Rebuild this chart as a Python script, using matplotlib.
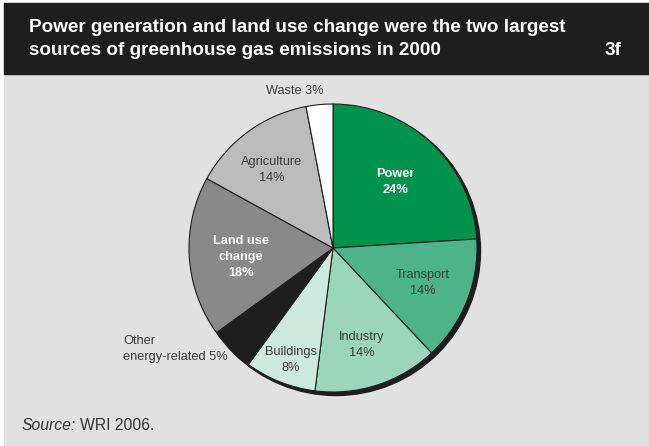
import matplotlib
matplotlib.use('Agg')
import matplotlib.pyplot as plt
from matplotlib.patches import Rectangle, Circle

# slices, clockwise from 12 o'clock
sectors = ['Power', 'Transport', 'Industry', 'Buildings', 'Other energy-related',
           'Land use change', 'Agriculture', 'Waste']
shares = [24, 14, 14, 8, 5, 18, 14, 3]
colors = ['#00934b', '#4db38a', '#9bd6bc', '#cee9dd', '#1e1e1e',
          '#898989', '#bcbcbc', '#ffffff']
label_texts = ['Power\n24%', 'Transport\n14%', 'Industry\n14%', 'Buildings\n8%',
               'Other\nenergy-related 5%', 'Land use\nchange\n18%', 'Agriculture\n14%', 'Waste 3%']

title_lines = ['Power generation and land use change were the two largest',
               'sources of greenhouse gas emissions in 2000']
fig_tag = '3f'

W, H = 649, 446
FONT = ['Liberation Sans', 'DejaVu Sans']

fig = plt.figure(figsize=(W / 100, H / 100), dpi=100)
fig.patch.set_facecolor('white')
ax = fig.add_axes([0, 0, 1, 1])

# background panel and header band
ax.add_patch(Rectangle((4, 0), W - 4, H - 3, color='#e1e1e1', zorder=0))
ax.add_patch(Rectangle((4, H - 74), W - 4, 71, color='#1e1e1e', zorder=1))

cx, cy, r = 333, H - 248, 144
ax.add_patch(Circle((cx + 3, cy - 3), r + 0.5, color='#1e1e1e', zorder=1))

wedges, _ = ax.pie(shares, colors=colors, startangle=90, counterclock=False,
                   center=(cx, cy), radius=r,
                   wedgeprops=dict(edgecolor='#1e1e1e', linewidth=0.8))
for w in wedges:
    w.set_zorder(2)

ax.set_xlim(0, W)
ax.set_ylim(0, H)
ax.axis('off')

# label placement (pixels from top-left)
label_pos = [(395, 182), (423, 283), (362, 345), (291, 360),
             (123, 349), (241, 257), (272, 170), (295, 91)]
for i, (txt, (x, y)) in enumerate(zip(label_texts, label_pos)):
    bold = sectors[i] in ('Power', 'Land use change')
    ha = 'left' if sectors[i] == 'Other energy-related' else 'center'
    ax.text(x, H - y, txt, ha=ha, va='center', ma=ha,
            fontsize=9.2, family=FONT, linespacing=1.45,
            color='white' if bold else '#3a3a3a',
            fontweight='bold' if bold else 'normal', zorder=5)

for i, line in enumerate(title_lines):
    ax.text(29, H - (32 + 23 * i), line, ha='left', va='baseline',
            fontsize=13.6, family=FONT, fontweight='bold', color='white', zorder=5)
ax.text(621, H - 55, fig_tag, ha='right', va='baseline',
        fontsize=13.6, family=FONT, fontweight='bold', color='white', zorder=5)

src1 = ax.text(22, H - 425, 'Source:', ha='left', va='center', fontsize=11.3,
               family=FONT, style='italic', color='#333333', zorder=5)
fig.canvas.draw()
bb = src1.get_window_extent()
ax.text(bb.x1 + 4, H - 425, 'WRI 2006.', ha='left', va='center', fontsize=11.3,
        family=FONT, color='#333333', zorder=5)

fig.savefig('out.png', dpi=100)
